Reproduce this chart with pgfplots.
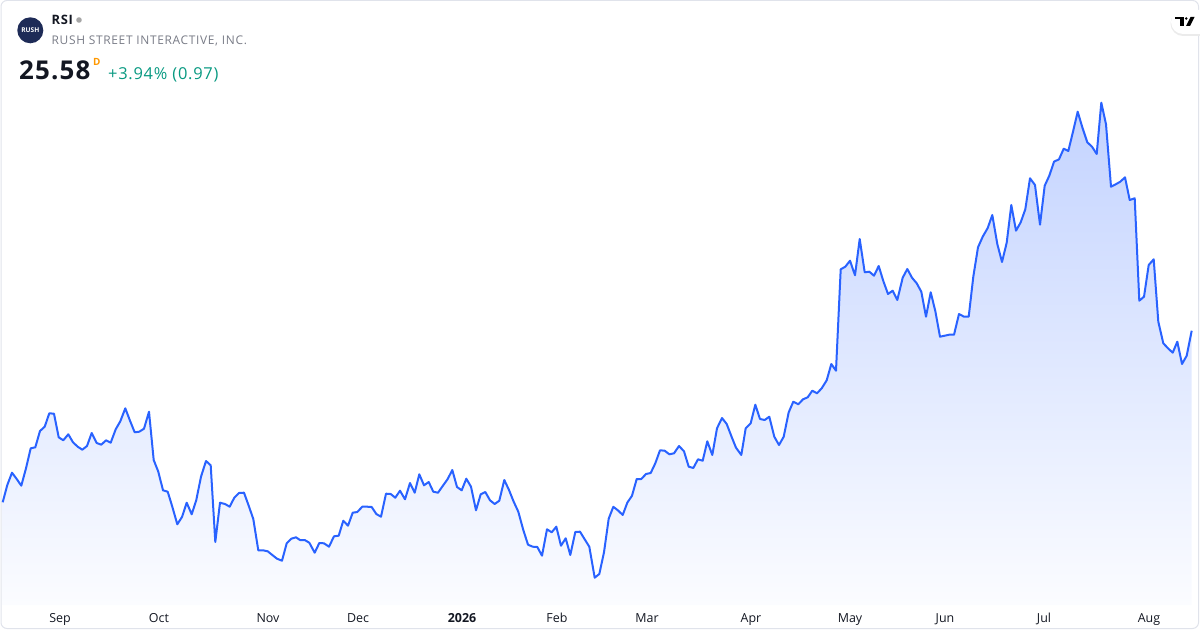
\documentclass[border=0pt]{standalone}
\usepackage{pgfplots}
\pgfplotsset{compat=1.18}
\usepackage{pgfplotstable}
\usepackage{fontspec}
\setmainfont{Open Sans}
\newfontfamily\hdrfont[LetterSpace=4.5]{Open Sans}
\newfontfamily\subfont[LetterSpace=5.5]{Open Sans}
\definecolor{tvblue}{HTML}{2962FF}
\definecolor{tvtop}{RGB}{195,211,255}
\definecolor{tvbot}{RGB}{251,252,255}
\definecolor{tvtext}{HTML}{131722}
\definecolor{tvgray}{HTML}{787B86}
\definecolor{tvgreen}{HTML}{089981}
\definecolor{tvorange}{HTML}{FF9800}
\definecolor{tvnavy}{HTML}{1E2B57}
\definecolor{tvframe}{HTML}{E0E3EB}
\pgfplotstableread{
px py
2.7 502.3
7.3 485
12 472.7
16.7 479
21.3 485.7
26 468.3
30.7 448.3
35.3 447.3
40 431
44.7 426.7
49.3 413.3
54 413.7
58.7 437.3
63.3 440.3
68.3 434.3
73 442.3
77.7 446.7
82.3 449.7
87 446
91.7 433
96.7 443
101.3 444.7
106 440.3
110.7 442.7
115.7 429.3
120.3 421.3
125.3 408.3
130 420.7
134.7 432.3
139.3 431.7
144 428.7
149 411.7
153.7 460
158.3 471.7
163 490.3
167.7 491.7
172.3 506.7
177.3 524.3
182 517
186.7 502.7
191.7 514.3
196.3 500
201 476.7
206 461
210.7 465.3
215.3 542
220 502.7
225 504
229.7 506.7
234.3 497.7
239 493
244 492.7
248.7 505.7
253.3 519
258.3 550.3
263 550.3
267.7 551.3
272.3 555
277 558.7
282 560.7
286.7 543.3
291.3 538.7
296 537.3
300 540
304.7 540
309.3 542.7
314.7 552.7
319.3 543
324 543.3
329 546.7
334 536.3
338.7 535.7
343.3 520.7
348 525.7
352.7 512.7
357.3 512
362.3 506.7
367 506.7
371.7 507
376.3 514
381 516.7
386 493.7
390.7 494
395.3 497.7
400 490.7
405 499.3
410 483
414.7 492.7
419.3 474.3
424 485.3
428.7 482
433.3 491.7
438 492.7
442.7 486
447.7 479
452.3 470
457 487
461.7 490.3
466.3 478.7
471 486.7
476 510.3
480.7 494.3
485.3 492
490 500.3
494.7 504
499.3 500.7
504.3 480
509 490
513.7 501.7
518.3 511.7
523.3 530
528 544.7
532.7 546.7
537.3 547
542 555.7
547 529.3
551.7 532.3
556.3 526.7
561 545.7
565.7 538.3
570.3 555
575.3 532
580 531.7
584.7 539.3
589.3 546.7
594.7 577.7
599.3 574
604 552.3
608.7 518.7
613.3 506.8
618 510.4
622.7 515
627.3 502.7
632 495.7
636.7 479
641.3 479
646 474
650.7 473
655.3 463.3
660 450.3
664.7 450.7
669.3 454.3
674 453.3
679 446
684 451.3
688.7 466.7
693.3 468
698 459.3
702.7 460.7
707.3 441.3
712.3 455
717 428.3
722 418
726.7 424
731.3 436
736 447.7
741.3 455
745.7 428.3
750.7 423.3
755.3 404.7
760 419
764.7 420
769.3 416.7
774.3 436.7
779 445
783.7 436.7
788.7 412.3
793.3 401.7
798.3 404.3
803 399.3
807.7 397.3
812.3 390.7
817 393.3
821.7 388.3
826.7 380.3
831.3 364
836 370.7
840.7 269.3
845.3 266.7
850 260.7
855 275.3
859.7 239
864.7 272.3
869.3 271.7
874 275.7
878.7 266
883.3 281
888 294
892.7 290.7
897.3 300
902.7 277.7
907.3 269
912 277.7
916.7 283.3
921.3 291.7
926 316.7
930.7 292.3
935.3 311
940 336.7
944.7 335.7
949.3 334.7
954 334.7
959 314
964 316.7
968.7 316.7
973.3 276.7
978 247.3
982.7 236.7
987.7 228
992.3 215
997.3 244
1002 262
1006.7 242.7
1011.3 205
1016 230.7
1020.7 222.3
1025.3 209.3
1030 178.3
1035 185
1040 224.7
1044.7 185.7
1049.3 175.7
1054 161.7
1059 159.3
1063.7 148.7
1068.3 151
1073 131.7
1077.7 111.7
1082.3 127.3
1087.3 142.3
1092 146.7
1096.7 154
1101.3 102.7
1106 124.3
1111 186.7
1115.7 184.3
1120.3 181.7
1125 177.3
1129.7 200
1134.7 198.3
1139.3 300.7
1144 296.7
1148.7 265
1153.7 259.3
1158.3 321.7
1163.3 343.3
1168 348.3
1172.7 352.7
1177.3 341.7
1182 364
1186.7 355.7
1191.7 330.7
}\pricedata
\begin{document}
\begin{tikzpicture}
\begin{axis}[
  scale only axis,
  width=1200bp, height=605bp,
  xmin=0, xmax=1200, ymin=0, ymax=605,
  clip=false,
  axis line style={draw=none},
  tick style={draw=none},
  major tick length=0pt,
  ytick=\empty,
  xtick={60,159,268,358,462,557,647,751,850,945,1044,1149},
  xticklabels={Sep,Oct,Nov,Dec,\textbf{2026},Feb,Mar,Apr,May,Jun,Jul,Aug},
  xticklabel style={anchor=base, yshift=-17bp, font=\fontsize{12.5}{14}\selectfont, text=tvtext, inner sep=0pt},
]
% frame
\draw[tvframe, line width=1bp, rounded corners=6bp] (axis cs:1,604.5) rectangle (axis cs:1198.5,-23.5);
% area
\addplot[draw=none, top color=tvtop, bottom color=tvbot] table[x=px, y expr=605-\thisrow{py}] {\pricedata} \closedcycle;
\addplot[tvblue, line width=2bp, line join=round, mark=none] table[x=px, y expr=605-\thisrow{py}] {\pricedata};
% header
\fill[tvnavy] (axis cs:30.3,574.7) circle[radius=13bp];
\node[text=white, font=\bfseries\fontsize{6.6}{7}\selectfont, inner sep=0pt] at (axis cs:30.3,574.7) {RUSH};
\node[anchor=base west, inner sep=0pt, text=tvtext, font=\hdrfont\bfseries\fontsize{13}{15}\selectfont] at (axis cs:51.5,580) {RSI};
\fill[gray!70] (axis cs:79,585) circle[radius=2.8bp];
\node[anchor=base west, inner sep=0pt, text=tvgray, font=\subfont\fontsize{12}{14}\selectfont] at (axis cs:51.5,560) {RUSH STREET INTERACTIVE, INC.};
\node[anchor=base west, inner sep=0pt, text=tvtext, font=\hdrfont\bfseries\fontsize{26}{28}\selectfont] at (axis cs:19,525) {25.58};
\node[anchor=base west, inner sep=0pt, text=tvorange, font=\bfseries\fontsize{10}{12}\selectfont] at (axis cs:93,539) {D};
\node[anchor=base west, inner sep=0pt, text=tvgreen, font=\hdrfont\fontsize{16.5}{19}\selectfont] at (axis cs:108,525) {+3.94\% (0.97)};
% TV logo pill
\fill[black!8] (axis cs:1200,594) -- (axis cs:1183,594) arc[start angle=90, end angle=270, radius=12.5bp] -- (axis cs:1200,569) -- cycle;
\fill[white] (axis cs:1200,595) -- (axis cs:1183,595) arc[start angle=90, end angle=270, radius=12bp] -- (axis cs:1200,571) -- cycle;
\fill[black] (axis cs:1175,588) rectangle (axis cs:1183.5,585.5);
\fill[black] (axis cs:1180,588) rectangle (axis cs:1183.5,579);
\fill[black] (axis cs:1186.3,586.5) circle[radius=1.4bp];
\fill[black] (axis cs:1190.5,588) -- (axis cs:1194.5,588) -- (axis cs:1190,579) -- (axis cs:1186,579) -- cycle;
\coordinate (bl) at (axis cs:0,-25);
\coordinate (tr) at (axis cs:1200,605);
\end{axis}
\pgfresetboundingbox
\path[use as bounding box] (bl) rectangle (tr);
\end{tikzpicture}
\end{document}
